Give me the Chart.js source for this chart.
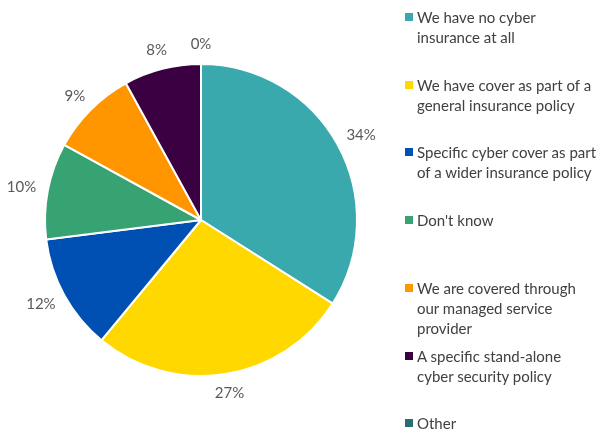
<!DOCTYPE html>
<html>
<head>
<meta charset="utf-8">
<script src="https://cdn.jsdelivr.net/npm/chart.js@4/dist/chart.umd.min.js"></script>
<style>
  html, body { margin: 0; padding: 0; background: #fff; }
  #wrap { position: relative; width: 601px; height: 431px; overflow: hidden; font-family: Lato, "Liberation Sans", sans-serif; }
  #pieBox { position: absolute; left: 0; top: 0; width: 402px; height: 431px; }
  #legend { position: absolute; left: 0; top: 0; width: 601px; height: 431px; pointer-events: none; }
  .item { position: absolute; left: 405px; width: 196px; color: #404040; font-size: 15px; line-height: 20px; }
  .sw { position: absolute; left: 0; top: 6px; width: 8px; height: 8px; }
  .txt { position: absolute; left: 12px; top: 0; white-space: nowrap; }
</style>
</head>
<body>
<div id="wrap">
  <div id="pieBox"><canvas id="pie"></canvas></div>
  <div id="legend"></div>
</div>
<script>
// Survey answers: how organisations hold cyber insurance
const categories = [
  ["We have no cyber", "insurance at all"],
  ["We have cover as part of a", "general insurance policy"],
  ["Specific cyber cover as part", "of a wider insurance policy"],
  ["Don't know"],
  ["We are covered through", "our managed service", "provider"],
  ["A specific stand-alone", "cyber security policy"],
  ["Other"]
];
const shares = [34, 27, 12, 10, 9, 8, 0];
const colors = ["#3AA9AE", "#FFD800", "#0050B4", "#37A373", "#FF9600", "#3A0042", "#266F72"];

// Legend on the right, one evenly spaced slot per answer
const legend = document.getElementById('legend');
categories.forEach((lines, i) => {
  const item = document.createElement('div');
  item.className = 'item';
  item.style.top = (7 + i * 67.7) + 'px';
  const sw = document.createElement('div');
  sw.className = 'sw';
  sw.style.background = colors[i];
  const txt = document.createElement('div');
  txt.className = 'txt';
  txt.innerHTML = lines.map(s => s.replace(/&/g, '&amp;').replace(/</g, '&lt;')).join('<br>');
  item.appendChild(sw);
  item.appendChild(txt);
  legend.appendChild(item);
});

// Percentage labels placed just outside each slice
const outsideLabels = {
  id: 'outsideLabels',
  afterDatasetsDraw(chart) {
    const ctx = chart.ctx;
    const meta = chart.getDatasetMeta(0);
    const data = chart.data.datasets[0].data;
    ctx.save();
    ctx.font = '15px Lato, "Liberation Sans", sans-serif';
    ctx.fillStyle = '#595959';
    ctx.textAlign = 'center';
    ctx.textBaseline = 'middle';
    meta.data.forEach((arc, i) => {
      const p = arc.getProps(['x', 'y', 'startAngle', 'endAngle', 'outerRadius'], true);
      const mid = (p.startAngle + p.endAngle) / 2;
      const text = data[i] + '%';
      const w = ctx.measureText(text).width;
      const h = 15;
      const r = p.outerRadius + 10;
      const cx = p.x + Math.cos(mid) * r + Math.cos(mid) * (w / 2 + 2);
      const cy = p.y + Math.sin(mid) * r + Math.sin(mid) * (h / 2 + 2);
      ctx.fillText(text, cx, cy);
    });
    ctx.restore();
  }
};

new Chart(document.getElementById('pie'), {
  type: 'pie',
  data: {
    labels: categories.map(l => l.join(' ')),
    datasets: [{
      data: shares,
      backgroundColor: colors,
      borderColor: '#ffffff',
      borderWidth: 2
    }]
  },
  options: {
    responsive: true,
    maintainAspectRatio: false,
    animation: false,
    layout: { padding: { left: 44, right: 44, top: 63, bottom: 54 } },
    plugins: {
      legend: { display: false },
      tooltip: { enabled: false }
    }
  },
  plugins: [outsideLabels]
});
</script>
</body>
</html>
